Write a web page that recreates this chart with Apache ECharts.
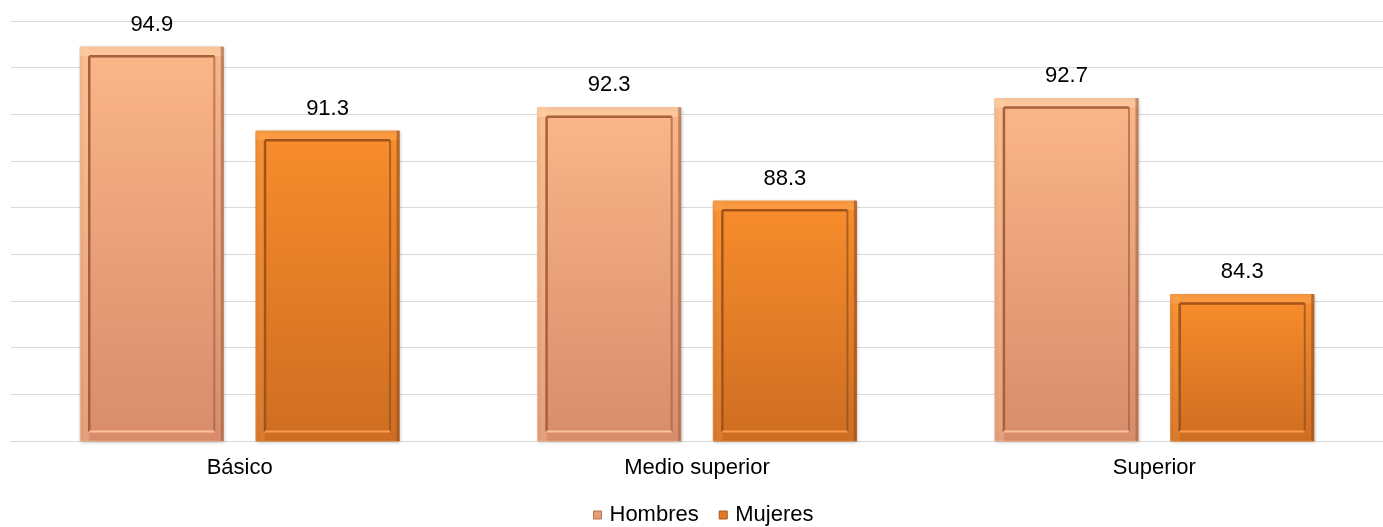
<!DOCTYPE html>
<html>
<head>
<meta charset="utf-8">
<script src="https://cdn.jsdelivr.net/npm/echarts@6/dist/echarts.min.js"></script>
<style>
  html, body { margin: 0; padding: 0; background: #fff; }
  #chart { width: 1383px; height: 527px; }
</style>
</head>
<body>
<div id="chart"></div>
<script>
var categories = ['Básico', 'Medio superior', 'Superior'];
var seriesNames = ['Hombres', 'Mujeres'];
var hombres = [94.9, 92.3, 92.7];
var mujeres = [91.3, 88.3, 84.3];
var yMin = 78, yMax = 96, yStep = 2;

var font = '"Liberation Sans", Arial, sans-serif';
var barPct = 0.315, gapPct = 0.22;

// bevel colours per series: [rim light, inner dark line, right dark, bottom highlight]
var bevel = [
    ['rgba(255,214,172,0.55)', '#A8603C', '#9C6448', 'rgba(255,200,160,0.9)'],
    ['rgba(255,170,90,0.45)', '#A3531A', '#8E4E22', 'rgba(255,160,80,0.9)']
];

function grad(top, bottom) {
    return new echarts.graphic.LinearGradient(0, 0, 0, 1, [
        { offset: 0, color: top },
        { offset: 1, color: bottom }
    ]);
}

var barLabel = {
    show: true,
    position: 'top',
    distance: 11,
    color: '#000',
    fontSize: 22,
    fontFamily: font,
    formatter: function (p) { return p.value.toFixed(1); }
};

// one item per drawn bar, for the bevel overlay
var bevelData = [];
hombres.forEach(function (v, i) { bevelData.push([i, v, 0]); });
mujeres.forEach(function (v, i) { bevelData.push([i, v, 1]); });

function renderBevel(params, api) {
    var c = api.value(0), v = api.value(1), s = api.value(2);
    var base = api.coord([c, yMin]);
    var top = api.coord([c, v]);
    var band = api.size([1, 0])[0];
    var bw = band * barPct, gap = bw * gapPct;
    var cx = base[0] + (s === 0 ? -1 : 1) * (bw + gap) / 2;
    var x0 = cx - bw / 2, x1 = cx + bw / 2, y0 = top[1], y1 = base[1];
    var ins = 9.5;
    var col = bevel[s];
    return {
        type: 'group',
        children: [
            { type: 'rect', shape: { x: x0, y: y0, width: bw, height: ins }, style: { fill: col[0] } },
            { type: 'rect', shape: { x: x0, y: y0, width: ins, height: y1 - y0 }, style: { fill: col[0], opacity: 0.5 } },
            { type: 'line', shape: { x1: x0 + ins, y1: y0 + ins, x2: x1 - ins, y2: y0 + ins }, style: { stroke: col[1], lineWidth: 2.5 } },
            { type: 'line', shape: { x1: x0 + ins, y1: y0 + ins, x2: x0 + ins, y2: y1 - ins }, style: { stroke: col[1], lineWidth: 2.5 } },
            { type: 'line', shape: { x1: x1 - ins, y1: y0 + ins, x2: x1 - ins, y2: y1 - ins }, style: { stroke: col[2], lineWidth: 2, opacity: 0.7 } },
            { type: 'line', shape: { x1: x0 + ins, y1: y1 - ins, x2: x1 - ins, y2: y1 - ins }, style: { stroke: col[3], lineWidth: 2 } },
            { type: 'line', shape: { x1: x1 - 1.5, y1: y0, x2: x1 - 1.5, y2: y1 }, style: { stroke: col[2], lineWidth: 3, opacity: 0.6 } }
        ]
    };
}

var chart = echarts.init(document.getElementById('chart'));

var option = {
    animation: false,
    backgroundColor: '#fff',
    grid: { left: 11, right: 0, top: 21, bottom: 86 },
    legend: {
        bottom: -4,
        left: 588,
        icon: 'rect',
        itemWidth: 8,
        itemHeight: 8,
        itemGap: 20,
        textStyle: { fontSize: 22, fontFamily: font, color: '#000', padding: [0, 0, 0, 3] },
        data: [
            { name: 'Hombres', itemStyle: { color: '#E59E77', borderColor: '#B8704B', borderWidth: 1 } },
            { name: 'Mujeres', itemStyle: { color: '#E07A25', borderColor: '#A9581C', borderWidth: 1 } }
        ]
    },
    xAxis: {
        type: 'category',
        data: categories,
        axisLine: { lineStyle: { color: '#d9d9d9', width: 1 } },
        axisTick: { show: false },
        axisLabel: { color: '#000', fontSize: 22, fontFamily: font, margin: 16 }
    },
    yAxis: {
        type: 'value',
        min: yMin,
        max: yMax,
        interval: yStep,
        axisLabel: { show: false },
        axisLine: { show: false },
        axisTick: { show: false },
        splitLine: { lineStyle: { color: '#d9d9d9', width: 1 } }
    },
    series: [
        {
            name: seriesNames[0],
            type: 'bar',
            data: hombres,
            barWidth: (barPct * 100) + '%',
            barGap: (gapPct * 100) + '%',
            label: barLabel,
            itemStyle: {
                color: grad('#FBB688', '#D88C6B'),
                borderColor: '#E9A57C',
                borderWidth: 1,
                shadowColor: 'rgba(0,0,0,0.2)',
                shadowBlur: 3,
                shadowOffsetX: 1,
                shadowOffsetY: 1
            }
        },
        {
            name: seriesNames[1],
            type: 'bar',
            data: mujeres,
            barWidth: (barPct * 100) + '%',
            label: barLabel,
            itemStyle: {
                color: grad('#F88D2B', '#CE6D22'),
                borderColor: '#E07A25',
                borderWidth: 1,
                shadowColor: 'rgba(0,0,0,0.2)',
                shadowBlur: 3,
                shadowOffsetX: 1,
                shadowOffsetY: 1
            }
        },
        {
            name: 'bevel',
            type: 'custom',
            data: bevelData,
            renderItem: renderBevel,
            silent: true,
            z: 3
        }
    ]
};

chart.setOption(option);
</script>
</body>
</html>
